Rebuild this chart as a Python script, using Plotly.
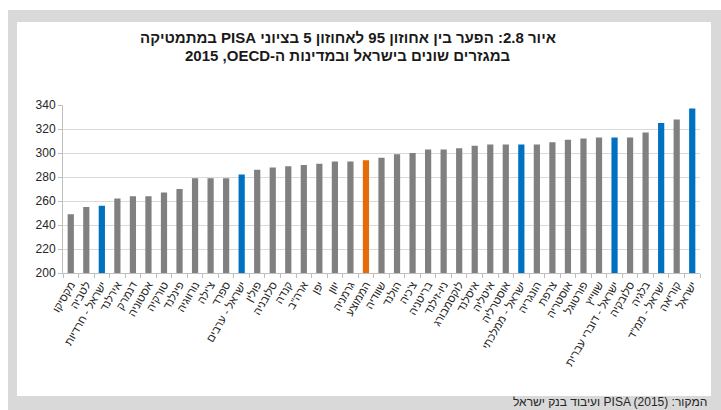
import plotly.graph_objects as go

categories = [
    "מקסיקו", "לטביה", "ישראל - חרדיות", "אירלנד", "דנמרק", "אסטוניה", "טורקיה",
    "פינלנד", "נורווגיה", "צ'ילה", "ספרד", "ישראל - ערבים", "פולין", "סלובניה",
    "קנדה", "ארה\"ב", "יפן", "יוון", "גרמניה", "הממוצע", "שוודיה", "הולנד",
    "צ'כיה", "בריטניה", "ניו-זילנד", "לוקסמבורג", "איסלנד", "איטליה", "אוסטרליה",
    "ישראל - ממלכתי", "הונגריה", "צרפת", "אוסטריה", "פורטוגל", "שווייץ",
    "ישראל - דוברי עברית", "סלובקיה", "בלגיה", "ישראל - ממ\"ד", "קוריאה", "ישראל",
]
values = [
    249, 255, 256, 262, 264, 264, 267, 270, 279, 279, 279, 282, 286, 288,
    289, 290, 291, 293, 293, 294, 296, 299, 300, 303, 303, 304, 306, 307, 307,
    307, 307, 309, 311, 312, 313, 313, 313, 317, 325, 328, 337,
]
groups = [
    "c", "c", "il", "c", "c", "c", "c", "c", "c", "c", "c", "il", "c", "c",
    "c", "c", "c", "c", "c", "avg", "c", "c", "c", "c", "c", "c", "c", "c", "c",
    "il", "c", "c", "c", "c", "c", "il", "c", "c", "il", "c", "il",
]
y_ticks = [200, 220, 240, 260, 280, 300, 320, 340]

title_line1 = "איור 2.8: הפער בין אחוזון 95 לאחוזון 5 בציוני PISA במתמטיקה"
title_line2 = "במגזרים שונים בישראל ובמדינות ה-OECD\u200f, \u200f2015"
source_text = "המקור: PISA (2015) ועיבוד בנק ישראל"

color_map = {"c": "#808080", "il": "#0070C0", "avg": "#E46C0A"}
colors = [color_map[g] for g in groups]

RLE, PDF = "\u202b", "\u202c"

W, H = 721, 410
L, R, T, B = 63, 21, 105, 137
pw, ph = W - L - R, H - T - B


def px(x):
    return (x - L) / pw


def py(y):
    return (H - B - y) / ph


fig = go.Figure(
    go.Bar(x=categories, y=values, marker=dict(color=colors, line=dict(width=0)))
)

fig.update_layout(
    width=W, height=H,
    margin=dict(l=L, r=R, t=T, b=B),
    paper_bgcolor="white",
    plot_bgcolor="rgba(0,0,0,0)",
    bargap=0.6,
    showlegend=False,
    font=dict(family="Liberation Sans, Arial, DejaVu Sans, sans-serif", color="#262626"),
    shapes=[
        dict(type="rect", xref="paper", yref="paper", layer="below",
             x0=px(8), x1=px(721), y0=py(10), y1=py(410),
             fillcolor="#D9D9D9", line=dict(width=0)),
        dict(type="rect", xref="paper", yref="paper", layer="below",
             x0=px(17), x1=px(711), y0=py(22), y1=py(396),
             fillcolor="#FFFFFF", line=dict(width=0)),
    ],
    annotations=[
        dict(xref="paper", yref="paper", x=px(348), y=py(37),
             text="<b>" + RLE + title_line1 + PDF + "</b>", showarrow=False,
             xanchor="center", yanchor="middle",
             font=dict(size=15, color="#1a1a1a")),
        dict(xref="paper", yref="paper", x=px(348), y=py(56),
             text="<b>" + RLE + title_line2 + PDF + "</b>", showarrow=False,
             xanchor="center", yanchor="middle",
             font=dict(size=15, color="#1a1a1a")),
        dict(xref="paper", yref="paper", x=px(708), y=py(410),
             text=RLE + source_text + PDF, showarrow=False,
             xanchor="right", yanchor="bottom", borderpad=0,
             font=dict(size=12, color="#262626")),
    ],
)

fig.update_xaxes(
    type="category",
    tickangle=-60,
    tickfont=dict(size=11, color="#262626"),
    ticks="outside", ticklen=4, tickcolor="#BFBFBF",
    tickson="boundaries",
    showline=True, linecolor="#BFBFBF", linewidth=1,
    showgrid=False,
    range=[-0.5, len(categories) - 0.5],
)
fig.update_yaxes(
    range=[200, 340],
    tickvals=y_ticks,
    tickfont=dict(size=12, color="#262626"),
    ticks="outside", ticklen=4, tickcolor="#BFBFBF",
    showline=True, linecolor="#BFBFBF", linewidth=1,
    showgrid=True, gridcolor="#D9D9D9", gridwidth=1,
    zeroline=False,
)

fig.write_html(
    "out.html",
    config={"displayModeBar": False},
    post_script="document.body.style.margin='0';",
)
